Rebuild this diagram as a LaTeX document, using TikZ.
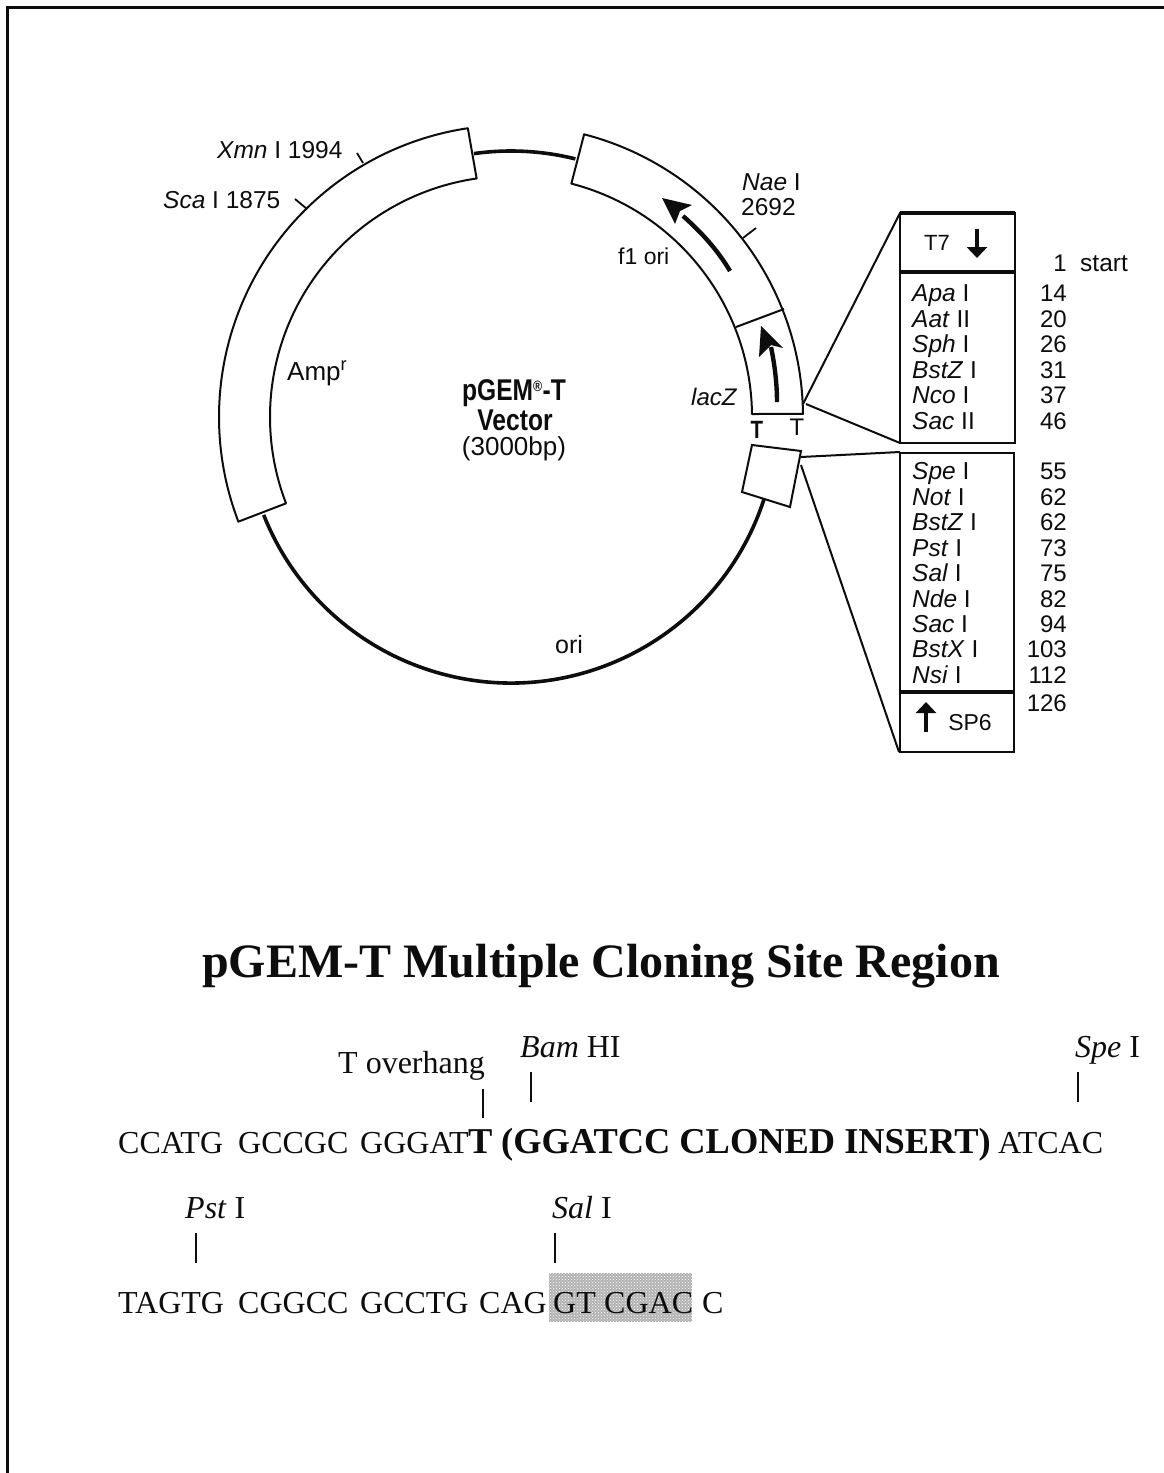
\documentclass[tikz,border=0pt]{standalone}
\usepackage{fontspec}
\setmainfont{Liberation Sans}
\newfontfamily\tms{Liberation Serif}
\newfontfamily\narrowbold[FakeStretch=0.82]{Liberation Sans Bold}
\usetikzlibrary{arrows.meta,patterns}
\definecolor{ink}{gray}{0.05}
\tikzset{
  lab/.style={font=\fontsize{24.5}{24.5}\selectfont, text=ink, inner sep=0pt, anchor=base west},
  num/.style={font=\fontsize{24}{24}\selectfont, text=ink, inner sep=0pt, anchor=base east},
  seq/.style={font=\tms\fontsize{32}{32}\selectfont, text=ink, inner sep=0pt, anchor=base west},
  seqb/.style={font=\tms\bfseries\fontsize{36.4}{36.4}\selectfont, text=ink, inner sep=0pt, anchor=base west},
  thin line/.style={draw=ink, line width=2pt},
  thick line/.style={draw=ink, line width=3.6pt},
  box line/.style={draw=ink, line width=2.8pt},
  tick/.style={draw=ink, line width=1.8pt},
  bigarrow/.style={draw=ink, line width=4.4pt},
  boxarrow/.style={-{Triangle[width=20pt,length=11pt]},draw=ink,fill=ink,line width=4pt},
}
\begin{document}
\begin{tikzpicture}[x=1pt,y=1pt]
\useasboundingbox (0,0) rectangle (1164,-1473);
\fill[white] (0,0) rectangle (1164,-1473);
% page frame
\draw[ink, line width=3pt] (7.5,-1473) -- (7.5,-7.5) -- (1164,-7.5);
\def\cx{511}\def\cy{-417}
% backbone
\draw[thick line] (\cx,\cy) ++(98:266) arc[start angle=98,end angle=76,radius=266];
\draw[thick line] (\cx,\cy) ++(-18:266) arc[start angle=-18,end angle=-158.4,radius=266];
% Amp segment
\draw[thin line,line join=round] (\cx,\cy) ++(98.5:292) arc[start angle=98.5,end angle=201,radius=292]
  -- ++(21:51) arc[start angle=201,end angle=98.2,radius=241] -- cycle;
% f1 ori / lacZ segment
\draw[thin line,line join=round] (\cx,\cy) ++(75.5:292) arc[start angle=75.5,end angle=0.6,radius=292]
  -- (752,-414) arc[start angle=0.7,end angle=75.5,radius=241] -- cycle;
\coordinate (fa) at (784,-309); \coordinate (fb) at (736,-327);
\draw[thin line] (fa) -- (fb);
% small MCS box
\draw[thin line,fill=white] (752,-445) -- (801,-451) -- (790,-507) -- (742,-492) -- cycle;
% site ticks
\draw[tick] (363,-163) -- (357,-153);
\draw[tick] (307,-209) -- (295,-199);
\draw[tick] (743,-238) -- (756,-228);
% arrows on the ring
\draw[bigarrow] (730,-271) .. controls (717,-249) and (700,-231) .. (683,-216);
\fill[ink] (662,-198) -- (692,-205) -- (680,-211) -- (675,-224) -- cycle;
\draw[bigarrow] (777,-402) .. controls (777,-385) and (775,-366) .. (771,-347);
\fill[ink] (761,-326) -- (783,-348) -- (771,-345) -- (759,-357) -- cycle;
% MCS table
\draw[box line] (900,-213) rectangle (1015,-443);
\draw[draw=ink,line width=3.8pt] (900,-213) -- (1015,-213);
\draw[draw=ink,line width=3.8pt] (900,-272) -- (1015,-272);
\draw[box line] (900,-453) rectangle (1014,-752);
\draw[draw=ink,line width=3.8pt] (900,-692) -- (1014,-692);
% zoom lines
\coordinate (za) at (803,-404); \coordinate (zb) at (806,-404);
\coordinate (zc) at (801,-457); \coordinate (zd) at (801,-465);
\coordinate (ta) at (900,-213); \coordinate (tb) at (900,-443);
\coordinate (tc) at (900,-452); \coordinate (td) at (899,-752);
\draw[thin line] (za) -- (ta);
\draw[thin line] (zb) -- (tb);
\draw[thin line] (zc) -- (tc);
\draw[thin line] (zd) -- (td);
% T7 / SP6
\node[font=\fontsize{22}{22}\selectfont,text=ink,inner sep=0pt] (t7) at (937,-243) {T7};
\draw[boxarrow] (977,-229) -- (977,-258);
\node[font=\fontsize{23}{23}\selectfont,text=ink,inner sep=0pt] (sp6) at (970,-723) {SP6};
\draw[boxarrow] (926,-732) -- (926,-702);
% enzyme labels
\node[lab] (e1) at (912,-301) {\textit{Apa} I};
\node[lab] (e2) at (912,-327) {\textit{Aat} II};
\node[lab] (e3) at (912,-352) {\textit{Sph} I};
\node[lab] (e4) at (912,-378) {\textit{BstZ} I};
\node[lab] (e5) at (912,-403) {\textit{Nco} I};
\node[lab] (e6) at (912,-429) {\textit{Sac} II};
\node[lab] (e7) at (912,-479) {\textit{Spe} I};
\node[lab] (e8) at (912,-505) {\textit{Not} I};
\node[lab] (e9) at (912,-530) {\textit{BstZ} I};
\node[lab] (e10) at (912,-556) {\textit{Pst} I};
\node[lab] (e11) at (912,-581) {\textit{Sal} I};
\node[lab] (e12) at (912,-607) {\textit{Nde} I};
\node[lab] (e13) at (912,-632) {\textit{Sac} I};
\node[lab] (e14) at (912,-657) {\textit{BstX} I};
\node[lab] (e15) at (912,-683) {\textit{Nsi} I};
% positions
\node[num] (n0) at (1067,-271) {1};
\node[lab] (n0b) at (1080,-271) {start};
\node[num] (n1) at (1067,-301) {14};
\node[num] (n2) at (1067,-327) {20};
\node[num] (n3) at (1067,-352) {26};
\node[num] (n4) at (1067,-378) {31};
\node[num] (n5) at (1067,-403) {37};
\node[num] (n6) at (1067,-429) {46};
\node[num] (n7) at (1067,-479) {55};
\node[num] (n8) at (1067,-505) {62};
\node[num] (n9) at (1067,-530) {62};
\node[num] (n10) at (1067,-556) {73};
\node[num] (n11) at (1067,-581) {75};
\node[num] (n12) at (1067,-607) {82};
\node[num] (n13) at (1067,-632) {94};
\node[num] (n14) at (1067,-657) {103};
\node[num] (n15) at (1067,-683) {112};
\node[num] (n16) at (1067,-711) {126};
% map labels
\node[lab] (xmn) at (217,-158) {\textit{Xmn} I 1994};
\node[lab] (sca) at (163,-208) {\textit{Sca} I 1875};
\node[lab] (nae) at (742,-190) {\textit{Nae} I};
\node[lab] (naen) at (741,-215) {2692};
\node[lab,font=\fontsize{23}{23}\selectfont] (f1) at (618,-264) {f1 ori};
\node[lab,font=\fontsize{26}{26}\selectfont] (amp) at (287,-380) {Amp$^{\mathrm{r}}$};
\node[lab,font=\itshape\fontsize{24}{24}\selectfont] (lacz) at (691,-405) {lacZ};
\node[lab,font=\fontsize{25}{25}\selectfont] (ori) at (555,-653) {ori};
\node[font=\narrowbold\fontsize{30}{30}\selectfont,text=ink,inner sep=0pt] (pg) at (514,-393) {pGEM\textsuperscript{\fontsize{15}{15}\selectfont ®}-T};
\node[font=\narrowbold\fontsize{30}{30}\selectfont,text=ink,inner sep=0pt] (vec) at (515,-420) {Vector};
\node[font=\fontsize{26}{26}\selectfont,text=ink,inner sep=0pt] (bp) at (514,-449) {(3000bp)};
\node[font=\narrowbold\fontsize{25}{25}\selectfont,text=ink,inner sep=0pt] (ta1) at (757,-430) {T};
\node[font=\fontsize{24}{24}\selectfont,text=ink,inner sep=0pt] (ta2) at (797,-427) {T};
% title
\node[font=\tms\bfseries\fontsize{48}{48}\selectfont,text=ink,inner sep=0pt] (title) at (601,-966) {pGEM-T Multiple Cloning Site Region};
% sequence line 1
\node[seq] (s1) at (118,-1153) {CCATG};
\node[seq] (s2) at (238,-1153) {GCCGC};
\node[seq] (s3) at (360,-1153) {GGGAT};
\node[seqb] (s4) at (468,-1153) {T};
\node[seqb] (s5) at (501,-1153) {(GGATCC CLONED INSERT)};
\node[seq] (s6) at (998,-1153) {ATCAC};
% sequence line 2
\fill[gray!60!white] (549,-1273) rectangle (692,-1322);
\fill[pattern=crosshatch dots,pattern color=white] (549,-1273) rectangle (692,-1322);
\node[seq] (r1) at (118,-1313) {TAGTG};
\node[seq] (r2) at (238,-1313) {CGGCC};
\node[seq] (r3) at (360,-1313) {GCCTG};
\node[seq] (r4) at (479,-1313) {CAG};
\node[seq] (r5) at (553,-1313) {GT};
\node[seq] (r6) at (604,-1313) {CGAC};
\node[seq] (r7) at (702,-1313) {C};
% site labels
\node[seq] (l1) at (338,-1073) {T overhang};
\node[seq] (l2) at (520,-1057) {\textit{Bam} HI};
\node[seq] (l3) at (1075,-1057) {\textit{Spe} I};
\node[seq] (l4) at (185,-1218) {\textit{Pst} I};
\node[seq] (l5) at (552,-1218) {\textit{Sal} I};
\coordinate (c1) at (483,-1089); \coordinate (c1e) at (483,-1118);
\coordinate (c2) at (531,-1072); \coordinate (c2e) at (531,-1102);
\coordinate (c3) at (1078,-1072); \coordinate (c3e) at (1078,-1102);
\coordinate (c4) at (196,-1233); \coordinate (c4e) at (196,-1263);
\coordinate (c5) at (555,-1233); \coordinate (c5e) at (555,-1263);
\draw[tick] (c1) -- (c1e);
\draw[tick] (c2) -- (c2e);
\draw[tick] (c3) -- (c3e);
\draw[tick] (c4) -- (c4e);
\draw[tick] (c5) -- (c5e);
\end{tikzpicture}
\end{document}
